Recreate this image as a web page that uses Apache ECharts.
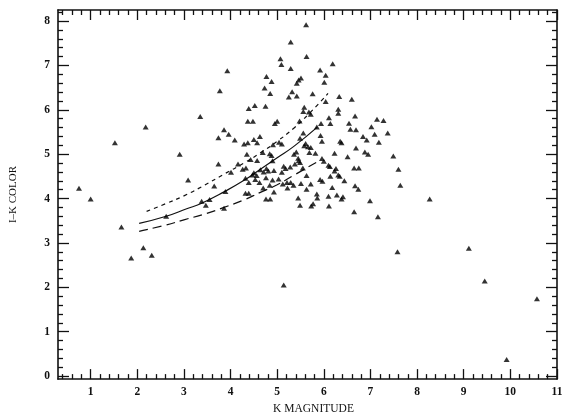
<!DOCTYPE html>
<html>
<head>
<meta charset="utf-8">
<script src="https://cdn.jsdelivr.net/npm/echarts@6/dist/echarts.min.js"></script>
<style>html,body{margin:0;padding:0;background:#fff}#c{width:570px;height:420px}</style>
</head>
<body>
<div id="c"></div>
<script>
// K magnitude (x) and I-K colour (y) of each star
const kMag = [0.75,1.00,1.52,1.66,1.87,2.13,2.18,2.31,2.62,2.91,3.09,3.35,3.38,3.47,3.55,3.65,3.86,3.89,5.14,
7.58,7.64,7.49,7.60,8.27,9.11,9.45,10.57,9.92,7.16,6.99,6.65,
5.29,5.07,5.09,5.29,3.93,4.77,4.88,4.73,4.85,5.32,5.25,3.77,4.52,4.39,4.75,4.37,4.48,4.95,5.00,
5.62,5.63,6.19,5.92,6.04,5.51,5.46,5.42,6.01,5.42,5.76,6.33,6.60,6.04,5.58,6.31,5.56,5.68,5.72,6.31,6.11,6.67,7.14,7.28,5.48,5.94,6.14,6.54,
3.86,3.74,3.96,4.09,4.29,4.37,4.50,4.57,4.63,4.91,5.04,5.10,4.35,4.69,4.84,4.88,4.43,4.57,4.90,3.74,4.16,4.26,4.33,4.01,4.77,4.71,4.64,4.50,4.81,4.93,5.14,5.18,5.28,5.10,4.47,4.56,4.53,4.39,4.32,4.76,4.62,4.90,5.03,5.12,5.21,5.29,5.22,4.70,4.84,4.32,4.39,4.93,4.76,4.85,
7.02,6.57,6.69,5.85,7.37,7.09,5.56,5.93,6.84,5.49,6.92,5.96,7.18,5.61,5.66,5.58,5.72,6.35,6.38,6.69,5.41,5.69,5.82,6.23,6.88,6.95,6.51,5.36,5.45,5.46,5.49,5.96,6.00,5.38,5.55,6.10,6.13,6.26,6.65,6.75,6.23,5.63,6.14,6.31,6.34,5.92,5.97,6.44,5.51,5.72,5.35,6.67,6.74,6.18,5.63,5.85,5.86,6.10,6.28,6.41,6.38,5.45,5.49,5.73,5.77,6.11];
const ikColor = [4.23,3.99,5.26,3.36,2.66,2.89,5.61,2.72,3.60,5.00,4.42,5.85,3.94,3.85,3.98,4.28,3.78,4.16,2.05,
2.80,4.30,4.96,4.66,3.99,2.88,2.14,1.74,0.37,3.59,3.95,3.70,
7.53,7.15,7.02,6.93,6.88,6.75,6.64,6.49,6.37,6.41,6.29,6.43,6.10,6.03,6.08,5.74,5.74,5.69,5.74,
7.92,7.20,7.04,6.90,6.78,6.72,6.67,6.60,6.62,6.31,6.36,6.30,6.24,6.19,6.06,6.01,5.96,5.95,5.90,5.92,5.82,5.86,5.79,5.76,5.75,5.69,5.69,5.70,
5.55,5.37,5.45,5.32,5.23,5.26,5.33,5.26,5.40,5.21,5.27,5.23,5.00,5.04,5.01,4.97,4.88,4.86,4.85,4.78,4.78,4.66,4.69,4.59,4.68,4.60,4.65,4.58,4.62,4.63,4.73,4.68,4.71,4.59,4.53,4.52,4.43,4.36,4.46,4.47,4.36,4.42,4.44,4.33,4.36,4.36,4.24,4.24,4.30,4.12,4.12,4.15,3.99,3.99,
5.62,5.56,5.55,5.61,5.48,5.45,5.48,5.42,5.40,5.36,5.32,5.29,5.27,5.24,5.17,5.19,5.15,5.29,5.26,5.14,5.05,5.04,5.02,5.02,5.05,5.00,4.94,5.00,4.91,4.85,4.81,4.90,4.84,4.78,4.69,4.75,4.72,4.68,4.69,4.69,4.62,4.52,4.50,4.53,4.50,4.43,4.39,4.40,4.34,4.33,4.30,4.29,4.21,4.25,4.21,4.10,4.01,4.05,4.08,4.04,3.99,4.01,3.85,3.83,3.88,3.83];

// model curves
const upperK  = [2.20,2.60,3.00,3.44,3.86,4.29,4.64,5.00,5.35,5.70,6.09];
const upperIK = [3.71,3.88,4.06,4.30,4.55,4.80,5.03,5.29,5.58,5.93,6.37];
const solidK  = [2.04,2.62,3.06,3.37,3.86,4.29,4.64,5.00,5.35,5.86];
const solidIK = [3.44,3.60,3.77,3.89,4.15,4.41,4.66,4.92,5.17,5.61];
const lowerK  = [2.04,2.60,3.00,3.44,3.86,4.29,4.64,5.00,5.35,5.88];
const lowerIK = [3.26,3.40,3.52,3.65,3.80,3.97,4.14,4.31,4.52,4.84];

// tick labels
const xTicks = [1,2,3,4,5,6,7,8,9,10,11];
const yTicks = [0,1,2,3,4,5,6,7,8];

const X_MIN = 0.3, X_MAX = 11, Y_MIN = -0.07, Y_MAX = 8.25;
function minors(lo, hi) {
  const out = [];
  for (let i = Math.ceil(lo * 5 + 1e-9); i <= Math.floor(hi * 5 - 1e-9); i++) {
    if (i % 5 !== 0) out.push(Math.round(i * 20) / 100);
  }
  return out;
}
const xMinor = minors(X_MIN, X_MAX);
const yMinor = minors(Y_MIN, Y_MAX);

const lineC = '#111';
const font = 'Liberation Serif';

function xAx(pos, ticks, len, showLine, labels) {
  return {
    type: 'value', position: pos, min: X_MIN, max: X_MAX,
    axisLine: { show: showLine, onZero: false, lineStyle: { color: lineC, width: 1.6 } },
    axisTick: { show: true, inside: true, length: len, customValues: ticks, lineStyle: { color: lineC, width: 1.3 } },
    axisLabel: labels ? { show: true, customValues: xTicks, color: '#111', fontFamily: font, fontSize: 11.5, fontWeight: 'bold', margin: 7 } : { show: false },
    splitLine: { show: false },
    name: labels ? 'K MAGNITUDE' : '',
    nameLocation: 'middle', nameGap: 17,
    nameTextStyle: { color: '#111', fontFamily: font, fontSize: 11.5, padding: [0, 0, 0, 12] }
  };
}
function yAx(pos, ticks, len, showLine, labels) {
  return {
    type: 'value', position: pos, min: Y_MIN, max: Y_MAX,
    axisLine: { show: showLine, onZero: false, lineStyle: { color: lineC, width: 1.6 } },
    axisTick: { show: true, inside: true, length: len, customValues: ticks, lineStyle: { color: lineC, width: 1.3 } },
    axisLabel: labels ? { show: true, customValues: yTicks, color: '#111', fontFamily: font, fontSize: 11.5, fontWeight: 'bold', margin: 8 } : { show: false },
    splitLine: { show: false },
    name: labels ? 'I\u2013K COLOR' : '',
    nameLocation: 'middle', nameGap: 39, nameRotate: 90,
    nameTextStyle: { color: '#111', fontFamily: font, fontSize: 11 }
  };
}

const chart = echarts.init(document.getElementById('c'), null, { renderer: 'canvas' });
chart.setOption({
  animation: false,
  backgroundColor: '#fff',
  grid: { left: 51, right: 13, top: 10, bottom: 28, containLabel: false },
  xAxis: [
    xAx('bottom', xTicks, 10, true, true),
    xAx('bottom', xMinor, 5, false, false),
    xAx('top', xTicks, 10, true, false),
    xAx('top', xMinor, 5, false, false)
  ],
  yAxis: [
    yAx('left', yTicks, 11, true, true),
    yAx('left', yMinor, 5, false, false),
    yAx('right', yTicks, 11, true, false),
    yAx('right', yMinor, 5, false, false)
  ],
  series: [
    { type: 'line', smooth: true, showSymbol: false, data: upperK.map((k, i) => [k, upperIK[i]]),
      lineStyle: { color: lineC, width: 1.2, type: [4, 4] }, z: 2 },
    { type: 'line', smooth: true, showSymbol: false, data: solidK.map((k, i) => [k, solidIK[i]]),
      lineStyle: { color: lineC, width: 1.2 }, z: 2 },
    { type: 'line', smooth: true, showSymbol: false, data: lowerK.map((k, i) => [k, lowerIK[i]]),
      lineStyle: { color: lineC, width: 1.2, type: [9, 5] }, z: 2 },
    { type: 'scatter', symbol: 'triangle', symbolSize: [6, 5], data: kMag.map((k, i) => [k, ikColor[i]]),
      itemStyle: { color: '#000' }, z: 3 }
  ]
});
</script>
</body>
</html>
